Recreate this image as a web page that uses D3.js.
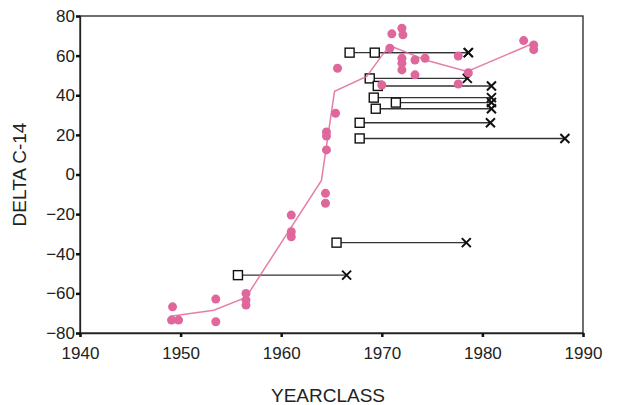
<!DOCTYPE html>
<html>
<head>
<meta charset="utf-8">
<script src="https://cdn.jsdelivr.net/npm/d3@7"></script>
<style>
  body { margin: 0; background: #fff; }
  svg { display: block; font-family: Arial, "Liberation Sans", sans-serif; }
</style>
</head>
<body>
<div id="svgRoot"></div>
<script>
// x / y ticks
var xTicks = [1940, 1950, 1960, 1970, 1980, 1990];
var yTicks = [-80, -60, -40, -20, 0, 20, 40, 60, 80];

// pink sample dots (yearclass, delta C-14)
var dotYears = [1949.2, 1949.1, 1949.8, 1953.5, 1953.5, 1956.5, 1956.5, 1956.5,
  1961.0, 1961.0, 1961.0, 1964.4, 1964.4, 1964.5, 1964.5, 1964.5, 1965.4, 1965.6,
  1971.0, 1972.0, 1972.1, 1970.8, 1972.0, 1972.0, 1972.0, 1973.3, 1974.3, 1973.3,
  1970.0, 1977.6, 1978.6, 1977.6, 1984.1, 1985.1, 1985.1];
var dotValues = [-66.8, -73.5, -73.5, -62.9, -74.3, -60, -63.4, -65.9,
  -20.5, -28.9, -31.4, -9.5, -14.5, 21.5, 19.4, 12.4, 30.9, 53.6,
  71, 73.8, 70.5, 63.7, 58.7, 56.2, 52.8, 57.8, 58.7, 50.3,
  45.2, 59.8, 51.4, 45.7, 67.6, 65.4, 63];

// pink curve through the dots
var curveYears = [1949.0, 1953.3, 1956.5, 1964.0, 1965.3, 1968.5, 1970.0, 1970.8, 1974.5, 1978.5, 1985.2];
var curveValues = [-71.5, -68.5, -62, -3, 42, 49.5, 60, 65, 57.5, 52, 66.5];

// square -> cross pairs
var startYears = [1966.8, 1969.3, 1968.8, 1969.6, 1969.2, 1971.4, 1969.4, 1967.8, 1967.8, 1965.5, 1955.7];
var endYears = [1978.6, 1978.6, 1978.5, 1980.9, 1980.9, 1980.9, 1980.9, 1980.8, 1988.2, 1978.4, 1966.5];
var pairValues = [61.5, 61.5, 48.5, 44.7, 38.8, 36.3, 33.2, 26.1, 18.2, -34.4, -50.8];

var W = 644, H = 405;
var margin = { top: 16, right: 61, bottom: 72, left: 80 },
  width = W - margin.left - margin.right,
  height = H - margin.top - margin.bottom;

var pink = "#e0679c";

var svg = d3.select("#svgRoot")
  .append("svg")
  .attr("width", W)
  .attr("height", H)
  .append("g")
  .attr("transform", "translate(" + margin.left + "," + margin.top + ")");

var x = d3.scaleLinear().domain([1940, 1990]).range([0, width]);
var y = d3.scaleLinear().domain([-80, 80]).range([height, 0]);

// frame
svg.append("rect")
  .attr("width", width)
  .attr("height", height)
  .attr("fill", "none")
  .attr("stroke", "#222")
  .attr("stroke-width", 1.3);

// axes
var xAxis = svg.append("g")
  .attr("transform", "translate(0," + height + ")")
  .call(d3.axisBottom(x).tickValues(xTicks).tickFormat(d3.format("d")).tickSize(4).tickPadding(10));
var yAxis = svg.append("g")
  .call(d3.axisLeft(y).tickValues(yTicks).tickSize(4).tickPadding(1));

[xAxis, yAxis].forEach(function (g) {
  g.select(".domain").attr("stroke", "#222").attr("stroke-width", 1.3);
  g.selectAll(".tick line").attr("stroke", "#111").attr("stroke-width", 2.5);
  g.selectAll(".tick text")
    .attr("fill", "#222")
    .style("font-size", "17px")
    .style("font-family", "Arial, 'Liberation Sans', sans-serif");
});

// square -> cross lines
var pairs = startYears.map(function (s, i) {
  return { start: s, end: endYears[i], value: pairValues[i] };
});

svg.selectAll("pairLine")
  .data(pairs)
  .enter()
  .append("line")
  .attr("x1", function (d) { return x(d.start); })
  .attr("x2", function (d) { return x(d.end); })
  .attr("y1", function (d) { return y(d.value); })
  .attr("y2", function (d) { return y(d.value); })
  .attr("stroke", "#333")
  .attr("stroke-width", 1.4);

var s = 4.5;
svg.selectAll("pairSquare")
  .data(pairs)
  .enter()
  .append("rect")
  .attr("x", function (d) { return x(d.start) - s; })
  .attr("y", function (d) { return y(d.value) - s; })
  .attr("width", s * 2)
  .attr("height", s * 2)
  .attr("fill", "#fff")
  .attr("stroke", "#111")
  .attr("stroke-width", 1.4);

var c = 4.5;
svg.selectAll("pairCross")
  .data(pairs)
  .enter()
  .append("path")
  .attr("d", function (d) {
    var cx = x(d.end), cy = y(d.value);
    return "M" + (cx - c) + "," + (cy - c) + "L" + (cx + c) + "," + (cy + c) +
      "M" + (cx - c) + "," + (cy + c) + "L" + (cx + c) + "," + (cy - c);
  })
  .attr("stroke", "#111")
  .attr("stroke-width", 2)
  .attr("fill", "none");

// pink curve
var curve = curveYears.map(function (yr, i) { return { yr: yr, v: curveValues[i] }; });
var line = d3.line()
  .x(function (d) { return x(d.yr); })
  .y(function (d) { return y(d.v); });

svg.append("path")
  .datum(curve)
  .attr("d", line)
  .attr("fill", "none")
  .attr("stroke", pink)
  .attr("stroke-width", 1.5)
  .style("opacity", 0.85);

// pink dots
var dots = dotYears.map(function (yr, i) { return { yr: yr, v: dotValues[i] }; });
svg.selectAll("myDots")
  .data(dots)
  .enter()
  .append("circle")
  .attr("cx", function (d) { return x(d.yr); })
  .attr("cy", function (d) { return y(d.v); })
  .attr("r", 4.5)
  .attr("fill", pink);

// axis titles
svg.append("text")
  .text("DELTA C-14")
  .attr("text-anchor", "middle")
  .attr("transform", "rotate(-90)")
  .attr("x", -(174.5 - margin.top))
  .attr("y", 26 - margin.left)
  .attr("fill", "#222")
  .style("font-size", "19px");

svg.append("text")
  .text("YEARCLASS")
  .attr("text-anchor", "middle")
  .attr("x", 328 - margin.left)
  .attr("y", 402 - margin.top)
  .attr("fill", "#222")
  .style("font-size", "19px");
</script>
</body>
</html>
